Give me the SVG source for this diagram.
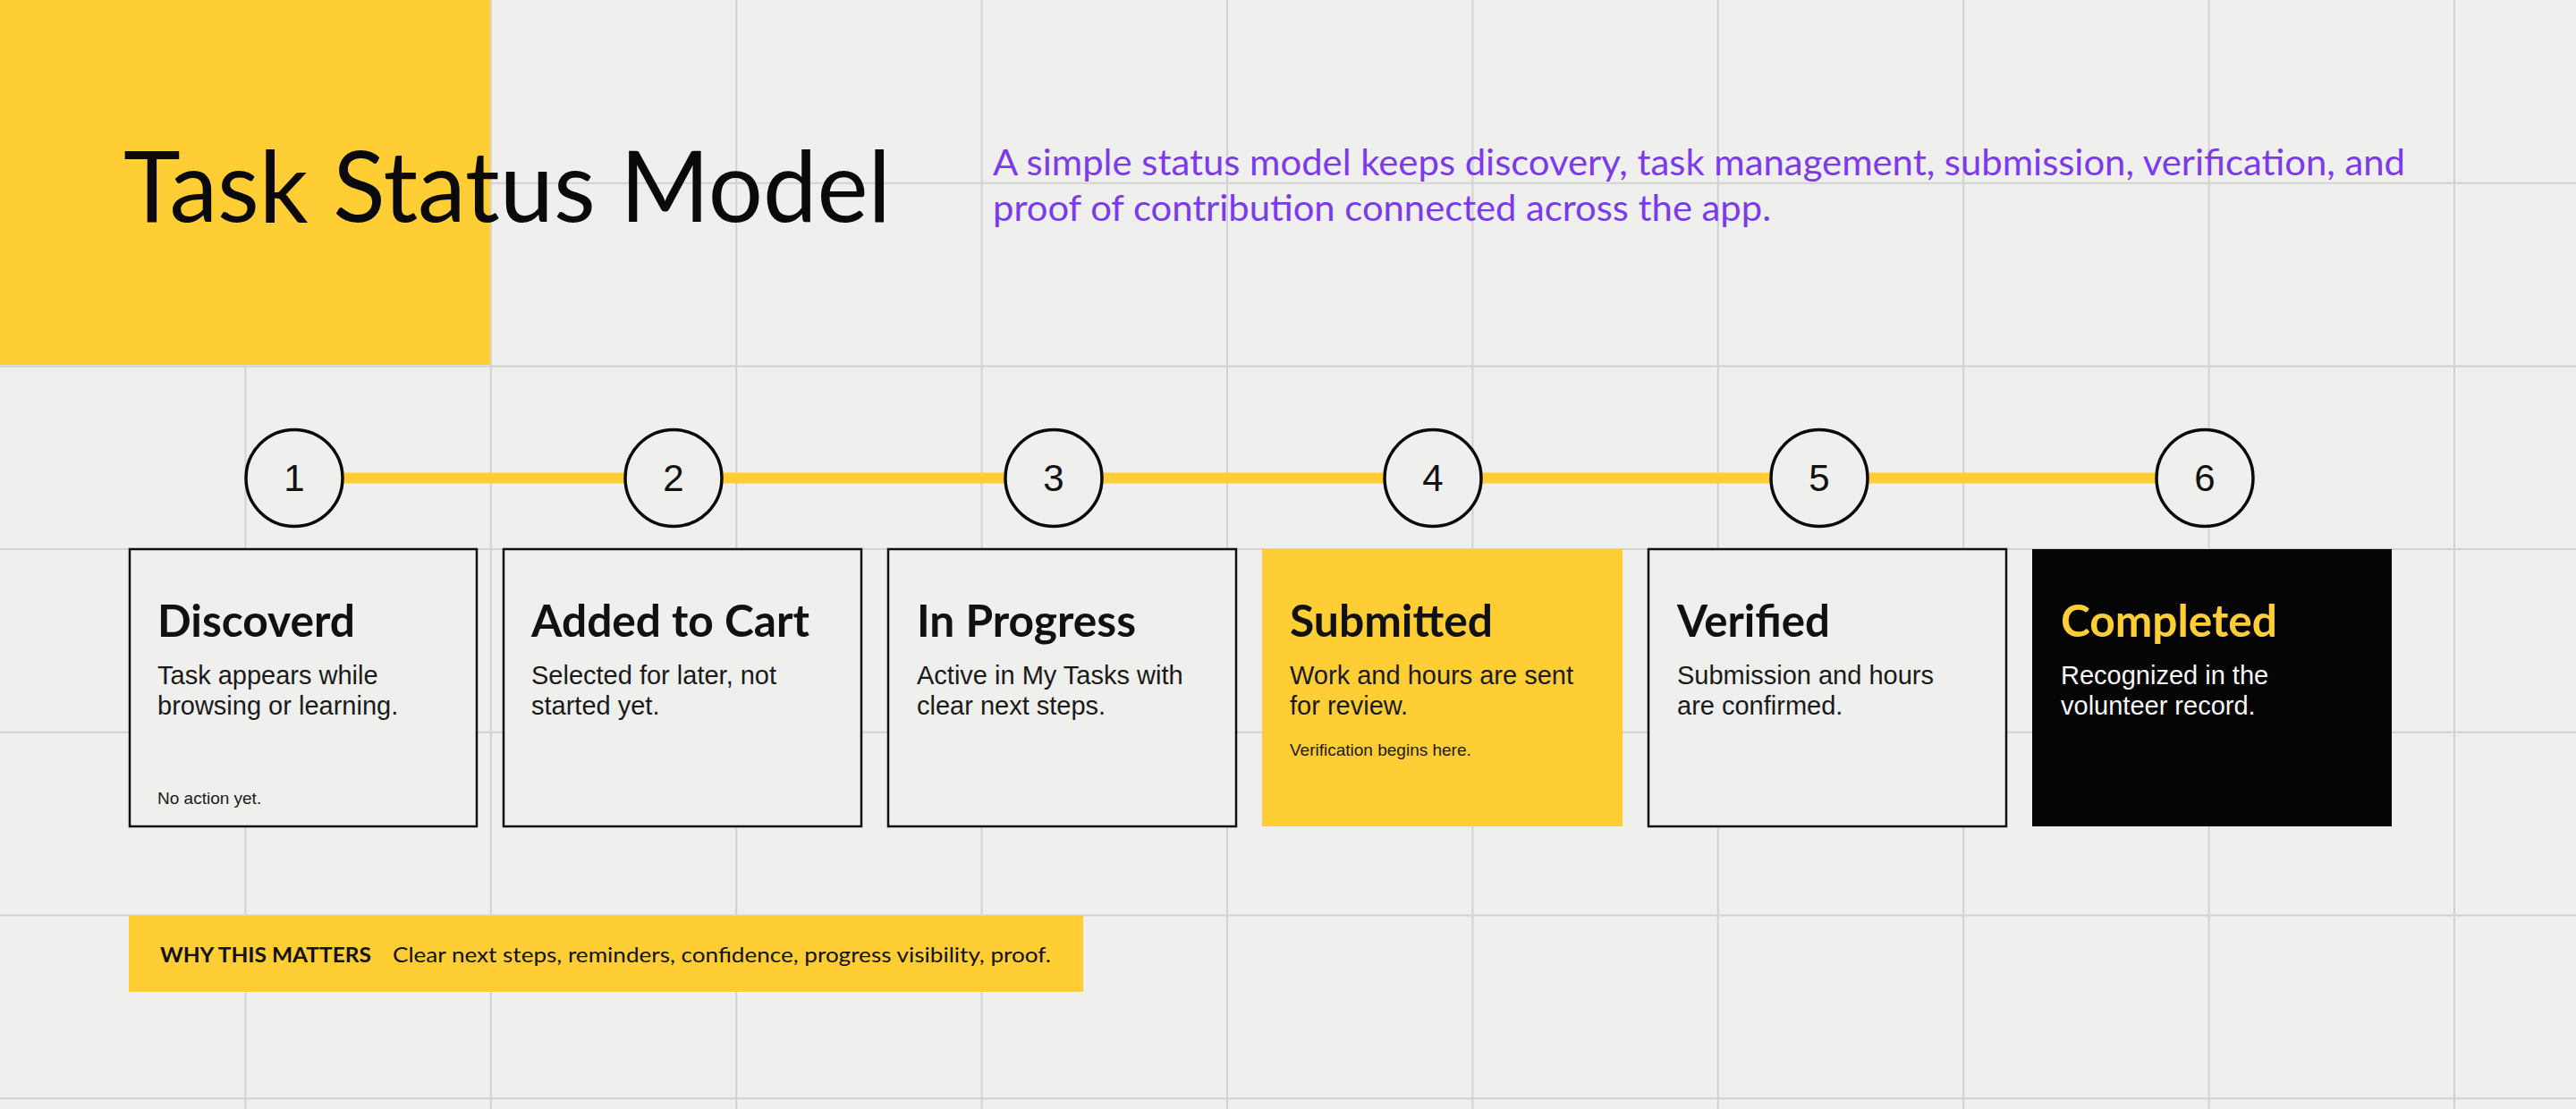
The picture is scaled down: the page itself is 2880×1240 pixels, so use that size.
<svg xmlns="http://www.w3.org/2000/svg" width="2880" height="1240" viewBox="0 0 2880 1240">
<style>
.grid line{stroke:#d2d2d0;stroke-width:2}
.card{fill:#efefed;stroke:#111;stroke-width:2.5}
.ttl{font-family:Lato,"Liberation Sans",sans-serif;font-weight:700;font-size:49px;fill:#111}
.body{font-family:"Liberation Sans",Arial,sans-serif;font-size:29px;fill:#1a1a1a}
.note{font-family:"Liberation Sans",Arial,sans-serif;font-size:19px;fill:#1a1a1a}
.num circle{fill:#efefed;stroke:#0a0a0a;stroke-width:3.5}
.num text{font-family:"Liberation Sans",Arial,sans-serif;font-size:42px;fill:#111;text-anchor:middle}
</style>
<rect width="2880" height="1240" fill="#efefed"/>
<g class="grid">
<line x1="274.4" y1="0" x2="274.4" y2="1240"/><line x1="548.8" y1="0" x2="548.8" y2="1240"/><line x1="823.2" y1="0" x2="823.2" y2="1240"/><line x1="1097.6" y1="0" x2="1097.6" y2="1240"/><line x1="1372" y1="0" x2="1372" y2="1240"/><line x1="1646.4" y1="0" x2="1646.4" y2="1240"/><line x1="1920.8" y1="0" x2="1920.8" y2="1240"/><line x1="2195.2" y1="0" x2="2195.2" y2="1240"/><line x1="2469.6" y1="0" x2="2469.6" y2="1240"/><line x1="2744" y1="0" x2="2744" y2="1240"/>
<line x1="0" y1="204.7" x2="2880" y2="204.7"/><line x1="0" y1="409.4" x2="2880" y2="409.4"/><line x1="0" y1="614.1" x2="2880" y2="614.1"/><line x1="0" y1="818.8" x2="2880" y2="818.8"/><line x1="0" y1="1023.5" x2="2880" y2="1023.5"/><line x1="0" y1="1228.2" x2="2880" y2="1228.2"/>
</g>
<rect x="0" y="0" width="548" height="408" fill="#ffcd34"/>
<g id="header">
<text x="138" y="248" font-family="Lato,'Liberation Sans',sans-serif" font-size="111" fill="#0a0a0a" textLength="858" lengthAdjust="spacingAndGlyphs">Task Status Model</text>
<text font-family="Lato,'Liberation Sans',sans-serif" font-size="40" fill="#7c3aed"><tspan x="1110" y="196" textLength="1579" lengthAdjust="spacingAndGlyphs">A simple status model keeps discovery, task management, submission, verification, and</tspan><tspan x="1110" y="247" textLength="870" lengthAdjust="spacingAndGlyphs">proof of contribution connected across the app.</tspan></text>
</g>
<g id="connectors">
<line x1="329" y1="534.5" x2="2465" y2="534.5" stroke="#ffcd34" stroke-width="12"/>
</g>
<g id="step1" class="num"><circle cx="329" cy="534.5" r="54"/><text x="329" y="549">1</text></g>
<g id="step2" class="num"><circle cx="753" cy="534.5" r="54"/><text x="753" y="549">2</text></g>
<g id="step3" class="num"><circle cx="1178" cy="534.5" r="54"/><text x="1178" y="549">3</text></g>
<g id="step4" class="num"><circle cx="1602" cy="534.5" r="54"/><text x="1602" y="549">4</text></g>
<g id="step5" class="num"><circle cx="2034" cy="534.5" r="54"/><text x="2034" y="549">5</text></g>
<g id="step6" class="num"><circle cx="2465" cy="534.5" r="54"/><text x="2465" y="549">6</text></g>
<g id="card-discovered">
<rect class="card" x="145" y="614" width="388" height="310"/>
<text class="ttl" x="176" y="712" textLength="221" lengthAdjust="spacingAndGlyphs">Discoverd</text>
<text class="body"><tspan x="176" y="765">Task appears while</tspan><tspan x="176" y="799">browsing or learning.</tspan></text>
<text class="note" x="176" y="899">No action yet.</text>
</g>
<g id="card-cart">
<rect class="card" x="563" y="614" width="400" height="310"/>
<text class="ttl" x="594" y="712" textLength="311" lengthAdjust="spacingAndGlyphs">Added to Cart</text>
<text class="body"><tspan x="594" y="765">Selected for later, not</tspan><tspan x="594" y="799">started yet.</tspan></text>
</g>
<g id="card-progress">
<rect class="card" x="993" y="614" width="389" height="310"/>
<text class="ttl" x="1025" y="712" textLength="245" lengthAdjust="spacingAndGlyphs">In Progress</text>
<text class="body"><tspan x="1025" y="765">Active in My Tasks with</tspan><tspan x="1025" y="799">clear next steps.</tspan></text>
</g>
<g id="card-submitted">
<rect x="1411" y="614" width="403" height="310" fill="#ffcd34"/>
<text class="ttl" x="1442" y="712" textLength="227" lengthAdjust="spacingAndGlyphs">Submitted</text>
<text class="body"><tspan x="1442" y="765">Work and hours are sent</tspan><tspan x="1442" y="799">for review.</tspan></text>
<text class="note" x="1442" y="845">Verification begins here.</text>
</g>
<g id="card-verified">
<rect class="card" x="1843" y="614" width="400" height="310"/>
<text class="ttl" x="1875" y="712" textLength="171" lengthAdjust="spacingAndGlyphs">Verified</text>
<text class="body"><tspan x="1875" y="765">Submission and hours</tspan><tspan x="1875" y="799">are confirmed.</tspan></text>
</g>
<g id="card-completed">
<rect x="2272" y="614" width="402" height="310" fill="#050505"/>
<text class="ttl" x="2304" y="712" fill="#ffcd34" style="fill:#ffcd34" textLength="242" lengthAdjust="spacingAndGlyphs">Completed</text>
<text class="body" style="fill:#f7f7f7"><tspan x="2304" y="765">Recognized in the</tspan><tspan x="2304" y="799">volunteer record.</tspan></text>
</g>
<g id="why">
<rect x="144" y="1024" width="1067" height="85" fill="#ffcd34"/>
<text x="179" y="1076" font-family="Lato,'Liberation Sans',sans-serif" font-weight="700" font-size="22" fill="#111" textLength="236" lengthAdjust="spacingAndGlyphs">WHY THIS MATTERS</text>
<text x="439" y="1076" font-family="Lato,'Liberation Sans',sans-serif" font-size="23" fill="#111" textLength="736" lengthAdjust="spacingAndGlyphs">Clear next steps, reminders, confidence, progress visibility, proof.</text>
</g>
</svg>
